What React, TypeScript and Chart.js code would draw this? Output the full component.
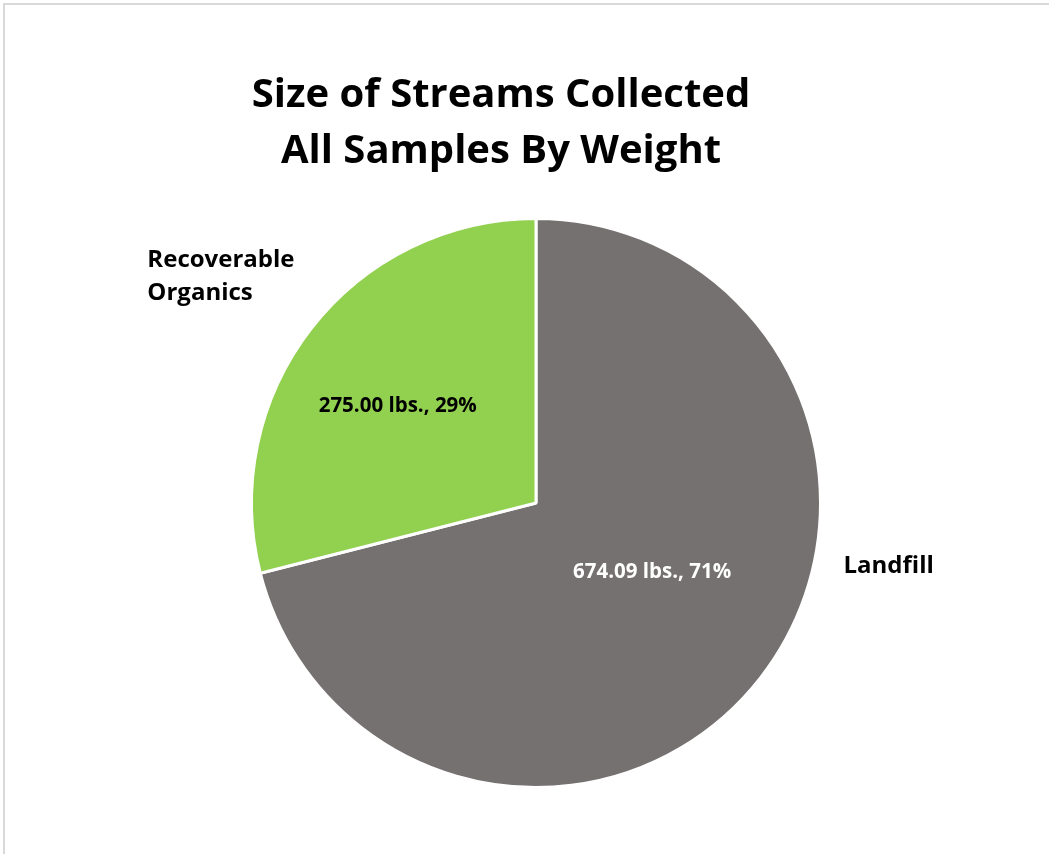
import React, { useEffect, useRef } from "react";
import { Chart, registerables } from "chart.js";

Chart.register(...registerables);

const categories = ["Landfill", "Recoverable Organics"];
const weights = [674.09, 275.0];
const percents = [71, 29];
const colors = ["#767171", "#92D050"];
const valueLabelColors = ["#FFFFFF", "#000000"];
const titleLines = ["Size of Streams Collected", "All Samples By Weight"];
const outsideLabelLines = [["Landfill"], ["Recoverable", "Organics"]];

// label placement (text baseline), in units of the pie radius from its centre
const insidePos = [
  [0.408, 0.264],
  [-0.486, -0.32],
];
const outsidePos = [
  [1.081, 0.246],
  [-1.366, -0.831],
];

const FONT = "'Open Sans', Lato, sans-serif";

const labelPlugin = {
  id: "customLabels",
  afterDatasetsDraw(chart: any) {
    const ctx = chart.ctx;
    const meta = chart.getDatasetMeta(0);
    ctx.save();
    // title
    ctx.fillStyle = "#000";
    ctx.textAlign = "center";
    ctx.textBaseline = "alphabetic";
    ctx.font = `bold 40px ${FONT}`;
    titleLines.forEach((t, i) => ctx.fillText(t, 501, 107 + i * 56));

    meta.data.forEach((arc: any, i: number) => {
      const { x, y, outerRadius } = arc.getProps(["x", "y", "outerRadius"], true);
      // inside value label
      ctx.font = `bold 20.5px ${FONT}`;
      ctx.textAlign = "center";
      ctx.textBaseline = "alphabetic";
      ctx.fillStyle = valueLabelColors[i];
      const txt = `${weights[i].toFixed(2)} lbs., ${percents[i]}%`;
      ctx.fillText(txt, x + insidePos[i][0] * outerRadius, y + insidePos[i][1] * outerRadius);
      // outside category label
      ctx.font = `bold 24px ${FONT}`;
      ctx.textAlign = "left";
      ctx.fillStyle = "#000";
      outsideLabelLines[i].forEach((line, j) => {
        ctx.fillText(line, x + outsidePos[i][0] * outerRadius, y + outsidePos[i][1] * outerRadius + j * 33);
      });
    });
    ctx.restore();
  },
};

export default function App() {
  const ref = useRef<HTMLCanvasElement>(null);
  useEffect(() => {
    document.body.style.margin = "0";
    const chart = new Chart(ref.current!, {
      type: "pie",
      data: {
        labels: categories,
        datasets: [
          {
            data: weights,
            backgroundColor: colors,
            borderColor: "#FFFFFF",
            borderWidth: 3,
          },
        ],
      },
      options: {
        responsive: false,
        animation: false,
        layout: { padding: { top: 217, bottom: 65, left: 250, right: 227 } },
        plugins: {
          legend: { display: false },
          tooltip: { enabled: false },
          title: { display: false },
        },
      },
      plugins: [labelPlugin],
    });
    return () => chart.destroy();
  }, []);
  return (
    <div style={{ position: "relative", width: 1049, height: 854, overflow: "hidden", background: "#fff" }}>
      <div
        style={{
          position: "absolute",
          left: 3,
          top: 3,
          width: 1060,
          height: 870,
          border: "2px solid #D9D9D9",
          boxSizing: "border-box",
        }}
      />
      <canvas ref={ref} width={1049} height={854} style={{ position: "absolute", left: 0, top: 0 }} />
    </div>
  );
}
